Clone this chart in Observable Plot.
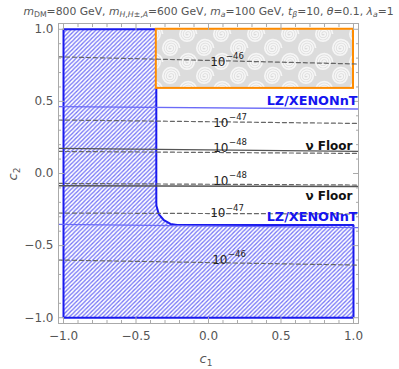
<!DOCTYPE html>
<html><head><meta charset="utf-8">
<script src="https://cdn.jsdelivr.net/npm/d3@7"></script>
<script src="https://cdn.jsdelivr.net/npm/@observablehq/plot@0.6"></script>
<style>
body{margin:0;background:#fff;}
#title{width:399px;height:20px;box-sizing:border-box;padding-left:18px;text-align:center;font-family:"DejaVu Sans";font-size:10.8px;color:#555;white-space:nowrap;line-height:24px;overflow:visible;}
#title sub{font-size:0.72em;vertical-align:-0.3em;line-height:0;}
</style></head><body>
<div id="title"><i>m</i><sub>DM</sub>=800 GeV, <i>m</i><sub><i>H</i>,<i>H</i>±,<i>A</i></sub>=600 GeV, <i>m<sub>a</sub></i>=100 GeV, <i>t</i><sub><i>β</i></sub>=10, <i>θ</i>=0.1, <i>λ<sub>a</sub></i>=1</div>
<div id="chart"></div>
<script>
// ---- data ----
const lineX = [-1.035, 1.035];
const contourExp = ["−46", "−47", "−48", "−48", "−47", "−46"];
const contourLeftY = [0.809, 0.371, 0.153, -0.069, -0.274, -0.600];
const contourRightY = [0.759, 0.347, 0.139, -0.080, -0.281, -0.635];
const contourLabelX = [0.117, 0.138, 0.138, 0.138, 0.117, 0.131];
const contourLabelY = [0.775, 0.352, 0.175, -0.050, -0.276, -0.598];
const floorLeftY = [0.174, -0.085];
const floorRightY = [0.153, -0.090];
const floorLabelX = [0.993, 0.993];
const floorLabelY = [0.192, -0.154];
const lzLeftY = [0.463, -0.353];
const lzRightY = [0.447, -0.376];
const lzLabelX = [1.028, 1.028];
const lzLabelY = [0.501, -0.303];
const excludedX = [-1, -0.36, -0.36, -0.359, -0.343, -0.308, -0.262, -0.216, 1, 1, -1, -1];
const excludedY = [1, 1, -0.20, -0.224, -0.281, -0.323, -0.350, -0.357, -0.357, -1, -1, 1];
const boxX = [-0.36, 1];
const boxY = [0.59, 1];
const majorTicks = [-1, -0.5, 0, 0.5, 1];
const minorTicks = [-0.9, -0.8, -0.7, -0.6, -0.4, -0.3, -0.2, -0.1, 0.1, 0.2, 0.3, 0.4, 0.6, 0.7, 0.8, 0.9];

// ---- tables ----
const excluded = excludedX.map((x, i) => ({x, y: excludedY[i]}));
const contours = contourExp.flatMap((e, i) => [
  {id: i, x: lineX[0], y: contourLeftY[i]},
  {id: i, x: lineX[1], y: contourRightY[i]}
]);
const floors = floorLeftY.flatMap((v, i) => [
  {id: i, x: lineX[0], y: v},
  {id: i, x: lineX[1], y: floorRightY[i]}
]);
const lz = lzLeftY.flatMap((v, i) => [
  {id: i, x: lineX[0], y: v},
  {id: i, x: lineX[1], y: lzRightY[i]}
]);
const contourLabels = contourExp.map((e, i) => ({x: contourLabelX[i], y: contourLabelY[i], e}));
const floorLabels = floorLabelX.map((x, i) => ({x, y: floorLabelY[i]}));
const lzLabels = lzLabelX.map((x, i) => ({x, y: lzLabelY[i]}));
const box = [{x1: boxX[0], x2: boxX[1], y1: boxY[0], y2: boxY[1]}];

const font = "DejaVu Sans";
const tickColor = "#aaa";
const axisTicks = (t, len) => [
  Plot.axisX({anchor: "bottom", ticks: t, tickSize: len, dy: -len, fill: "none", stroke: tickColor, label: null}),
  Plot.axisX({anchor: "top", ticks: t, tickSize: len, dy: len, fill: "none", stroke: tickColor, label: null}),
  Plot.axisY({anchor: "left", ticks: t, tickSize: len, dx: len, fill: "none", stroke: tickColor, label: null}),
  Plot.axisY({anchor: "right", ticks: t, tickSize: len, dx: -len, fill: "none", stroke: tickColor, label: null})
];

const plot = Plot.plot({
  width: 399,
  height: 349,
  marginTop: 3,
  marginBottom: 46,
  marginLeft: 58,
  marginRight: 41,
  style: {fontFamily: font, background: "white"},
  x: {domain: [-1.0345, 1.0345], axis: null},
  y: {domain: [-1.04, 1.04], axis: null},
  marks: [
    Plot.line(excluded, {x: "x", y: "y", fill: "url(#hatch)", stroke: "#1a1aee", strokeWidth: 2, strokeLinejoin: "miter"}),
    Plot.rect(box, {x1: "x1", x2: "x2", y1: "y1", y2: "y2", fill: "url(#swirl)", stroke: "#ff8c00", strokeWidth: 2}),
    Plot.line(lz, {x: "x", y: "y", z: "id", stroke: "#6b6bf7", strokeWidth: 1.3, clip: true}),
    Plot.line(floors, {x: "x", y: "y", z: "id", stroke: "#555", strokeWidth: 1.3, clip: true}),
    Plot.line(contours, {x: "x", y: "y", z: "id", stroke: "#666", strokeWidth: 1.2, strokeDasharray: "4,3", clip: true}),
    Plot.frame({stroke: tickColor}),
    ...axisTicks(majorTicks, 6),
    ...axisTicks(minorTicks, 3),
    Plot.axisX({anchor: "bottom", ticks: majorTicks, tickSize: 0, tickPadding: 8, tickFormat: d3.format(".1f"), fontSize: 12, fill: "#555", label: null}),
    Plot.axisY({anchor: "left", ticks: majorTicks, tickSize: 0, tickPadding: 5, tickFormat: d3.format(".1f"), fontSize: 12, fill: "#555", label: null}),
    Plot.text(contourLabels, {x: "x", y: "y", text: () => "10", textAnchor: "end", fontSize: 12, fill: "#222", fontFamily: font}),
    Plot.text(contourLabels, {x: "x", y: "y", text: "e", textAnchor: "start", dx: 0.5, dy: -5.5, fontSize: 8.5, fill: "#222", fontFamily: font}),
    Plot.text(floorLabels, {x: "x", y: "y", text: () => "ν Floor", textAnchor: "end", fontSize: 12, fontWeight: "bold", fill: "#111", fontFamily: font}),
    Plot.text(lzLabels, {x: "x", y: "y", text: () => "LZ/XENONnT", textAnchor: "end", fontSize: 12.8, fontWeight: "bold", fill: "#1414f0", fontFamily: font})
  ]
});

const svg = d3.select(plot);
const defs = svg.insert("defs", ":first-child");
const P = 4.2;
const h = defs.append("pattern").attr("id", "hatch").attr("patternUnits", "userSpaceOnUse").attr("width", P).attr("height", P);
h.append("rect").attr("width", P).attr("height", P).attr("fill", "white");
h.append("path").attr("d", `M0,${P}L${P},0M-1,1L1,-1M${P - 1},${P + 1}L${P + 1},${P - 1}`).attr("stroke", "#7474f6").attr("stroke-width", 1.3);
const sw = defs.append("pattern").attr("id", "swirl").attr("patternUnits", "userSpaceOnUse").attr("width", 34).attr("height", 28);
sw.append("rect").attr("width", 34).attr("height", 28).attr("fill", "#dcdcdc");
const spiral = (cx, cy) => `M${cx},${cy}a1.2,1.2 0 0 1 2.4,0a2.4,2.4 0 0 1 -4.8,0a3.6,3.6 0 0 1 7.2,0a4.8,4.8 0 0 1 -9.6,0a6,6 0 0 1 12,0a7.2,7.2 0 0 1 -14.4,0a8.4,8.4 0 0 1 16.8,0`;
[[17, 14], [0, 0], [34, 0], [0, 28], [34, 28]].forEach(([cx, cy]) =>
  sw.append("path").attr("d", spiral(cx, cy)).attr("fill", "none").attr("stroke", "#f6f6f6").attr("stroke-width", 1.7));

// axis labels
const xl = svg.append("text").attr("x", 206).attr("y", 343).attr("text-anchor", "middle")
  .attr("font-family", font).attr("font-size", 13).attr("fill", "#555").attr("font-style", "italic");
xl.append("tspan").text("c");
xl.append("tspan").attr("font-size", 9).attr("dy", 3).attr("font-style", "normal").text("1");
const yl = svg.append("text").attr("transform", "translate(17,154) rotate(-90)").attr("text-anchor", "middle")
  .attr("font-family", font).attr("font-size", 13).attr("fill", "#555").attr("font-style", "italic");
yl.append("tspan").text("c");
yl.append("tspan").attr("font-size", 9).attr("dy", 3).attr("font-style", "normal").text("2");

document.getElementById("chart").appendChild(plot);
</script>
</body></html>
